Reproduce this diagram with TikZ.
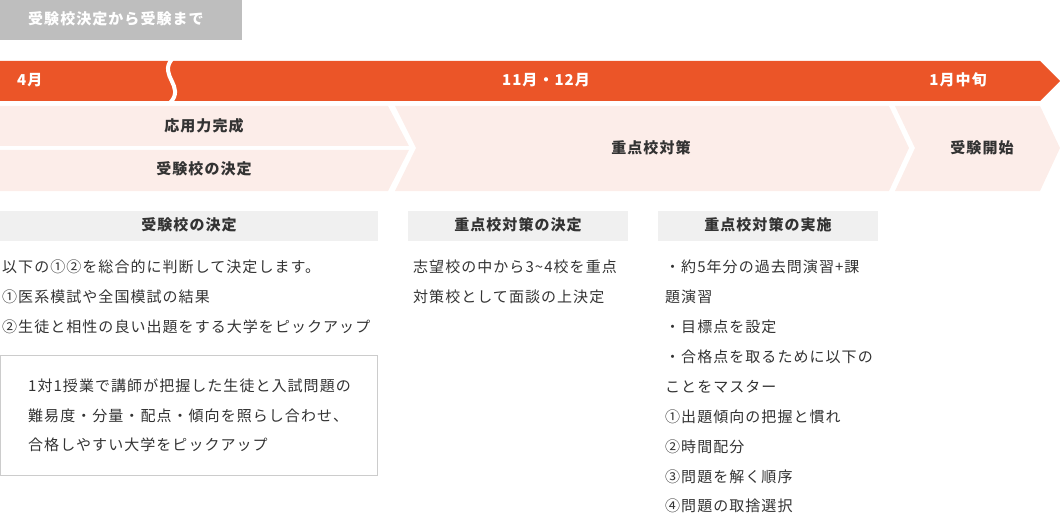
\documentclass[tikz,border=0pt]{standalone}
\usepackage{fontspec}
\newfontfamily\jp[LetterSpace=7]{Noto Sans CJK JP}
\definecolor{orng}{HTML}{EB5528}
\definecolor{pinkbg}{HTML}{FCEDE9}
\definecolor{ttlgray}{HTML}{BEBEBE}
\definecolor{hdrgray}{HTML}{F0F0F0}
\definecolor{txt}{HTML}{333333}
\definecolor{bord}{HTML}{CCCCCC}
\tikzset{
  base/.style={inner sep=0pt, text height=1.0em, text depth=0.02em},
  whitelbl/.style={base, font=\jp\fontsize{15}{18}\selectfont\bfseries, text=white},
  boldlbl/.style={base, font=\jp\fontsize{15}{18}\selectfont\bfseries, text=txt},
  bodytxt/.style={base, anchor=west, font=\jp\fontsize{15}{18}\selectfont, text=txt},
}
\begin{document}
\begin{tikzpicture}[x=1pt,y=-1pt]
\useasboundingbox (0,0) rectangle (1060,516);
% title
\fill[ttlgray] (0,0) rectangle (242,40);
\node[whitelbl, anchor=west] (ttl) at (28,20) {受験校決定から受験まで};
% orange bar
\fill[orng] (0,61) -- (1040,61) -- (1060,81) -- (1040,101) -- (0,101) -- cycle;
\draw[white, line width=4pt] (172,59) .. controls (158,76) and (186,86) .. (170,103);
\node[whitelbl, anchor=west] (apr) at (17,81) {4月};
\node[whitelbl] (nov) at (546,81) {11月・12月};
\node[whitelbl] (jan) at (958,81) {1月中旬};
% chevrons
\fill[pinkbg] (0,106) -- (388,106) -- (409,146) -- (0,146) -- cycle;
\fill[pinkbg] (0,150) -- (409,150) -- (388,191) -- (0,191) -- cycle;
\fill[pinkbg] (395,106) -- (889,106) -- (909,148) -- (889,191) -- (395,191) -- (416,148) -- cycle;
\fill[pinkbg] (895,106) -- (1040,106) -- (1060,148) -- (1040,191) -- (895,191) -- (915,148) -- cycle;
\node[boldlbl] (oyo) at (204,127) {応用力完成};
\node[boldlbl] (jkk) at (204,170) {受験校の決定};
\node[boldlbl] (jtk) at (651,149) {重点校対策};
\node[boldlbl] (jks) at (982,149) {受験開始};
% header boxes
\fill[hdrgray] (0,211) rectangle (378,241);
\fill[hdrgray] (408,211) rectangle (628,241);
\fill[hdrgray] (658,211) rectangle (878,241);
\node[boldlbl] (h1) at (189,226) {受験校の決定};
\node[boldlbl] (h2) at (518,226) {重点校対策の決定};
\node[boldlbl] (h3) at (768,226) {重点校対策の実施};
% column 1
\node[bodytxt] (a1) at (2,268) {以下の①②を総合的に判断して決定します。};
\node[bodytxt] (a2) at (2,298) {①医系模試や全国模試の結果};
\node[bodytxt] (a3) at (2,328) {②生徒と相性の良い出題をする大学をピックアップ};
\draw[bord, line width=1pt] (0.5,355.5) rectangle (377.5,475.5);
\node[bodytxt] (b1) at (28,387) {1対1授業で講師が把握した生徒と入試問題の};
\node[bodytxt] (b2) at (28,417) {難易度・分量・配点・傾向を照らし合わせ、};
\node[bodytxt] (b3) at (28,446) {合格しやすい大学をピックアップ};
% column 2
\node[bodytxt] (c1) at (413,268) {志望校の中から3\textasciitilde4校を重点};
\node[bodytxt] (c2) at (413,298) {対策校として面談の上決定};
% column 3
\node[bodytxt] (d1) at (665,268) {・約5年分の過去問演習+課};
\node[bodytxt] (d2) at (665,298) {題演習};
\node[bodytxt] (d3) at (665,328) {・目標点を設定};
\node[bodytxt] (d4) at (665,358) {・合格点を取るために以下の};
\node[bodytxt] (d5) at (665,388) {ことをマスター};
\node[bodytxt] (d6) at (665,418) {①出題傾向の把握と慣れ};
\node[bodytxt] (d7) at (665,448) {②時間配分};
\node[bodytxt] (d8) at (665,478) {③問題を解く順序};
\node[bodytxt] (d9) at (665,507) {④問題の取捨選択};
\end{tikzpicture}
\end{document}
